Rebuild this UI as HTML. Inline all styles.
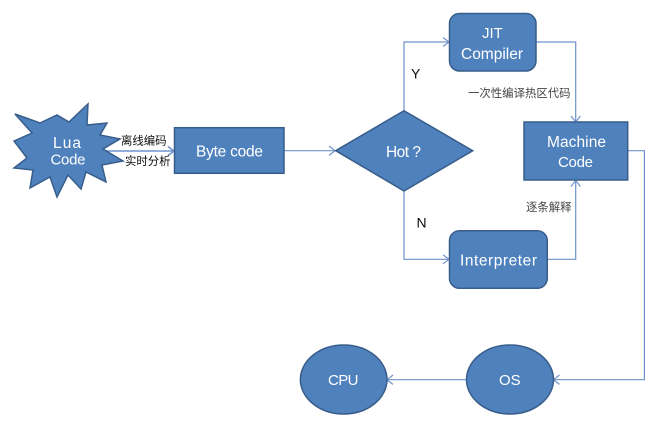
<!DOCTYPE html>
<html><head><meta charset="utf-8"><style>
html,body{margin:0;padding:0;background:#fff;width:659px;height:436px;overflow:hidden}
svg{display:block;font-family:"Liberation Sans","Noto Sans CJK SC",sans-serif}
.s{fill:#4f81bd;stroke:#385d8a;stroke-width:1.5}
.l{fill:none;stroke:#6f93cb;stroke-width:1.2}
.w{fill:#fff;font-size:15.5px}
.m{fill:#fff;font-size:15px}
.k{fill:#111;font-size:11.4px}
.g{fill:#444;font-size:11.4px}
</style></head><body>
<svg width="659" height="436" viewBox="0 0 659 436" xmlns="http://www.w3.org/2000/svg">
<defs><filter id="b" x="-2%" y="-2%" width="104%" height="104%"><feGaussianBlur stdDeviation="0.35"/></filter></defs>
<g filter="url(#b)">
<path class="l" style="stroke-width:1.6" d="M103 151H174M168 146.5L174 151L168 155.5"/>
<path class="l" d="M284 150.7H335M329 146L335 150.7L329 155.4"/>
<path class="l" d="M404 111V42H449M443 37.5L449 42L443 46.5"/>
<path class="l" d="M404 191V259.3H449M443 254.8L449 259.3L443 263.8"/>
<path class="l" d="M536 42H575.7V122M571 116L575.7 122L580.4 116"/>
<path class="l" d="M547 259.3H575.7V180.5M571 186.5L575.7 180.5L580.4 186.5"/>
<path class="l" d="M627.7 150.7H644.4V379.7H553.5M559.5 375L553.5 379.7L559.5 384.4"/>
<path class="l" d="M466.5 379.7H387M393 375L387 379.7L393 384.4"/>
<polygon class="s" points="15,114 40,123 57,115 69,122 88,104 87,125 107,123 100,135 120,139 103,149 123,161 102,165 106,182 86,172 81,189 68,175 57,197 50,177 30,188 33,170 14,168 27,158 14,141 32,133"/>
<rect class="s" x="174.5" y="127.7" width="109.5" height="45.6"/>
<polygon class="s" points="335.7,150.7 404,110.7 472.7,150.7 404,191"/>
<rect class="s" x="449.5" y="13.5" width="86.5" height="57.5" rx="10" ry="10"/>
<rect class="s" x="524" y="122" width="103.7" height="58"/>
<rect class="s" x="449.5" y="230.7" width="97.8" height="57.6" rx="10" ry="10"/>
<ellipse class="s" cx="343.7" cy="379.5" rx="43.3" ry="34.5"/>
<ellipse class="s" cx="510" cy="379.5" rx="43.5" ry="34.5"/>
<text class="w" x="53" y="148" textLength="28" lengthAdjust="spacing">Lua</text>
<text class="m" x="50.5" y="164.5" textLength="35" lengthAdjust="spacing">Code</text>
<text class="w" x="196" y="156.7" textLength="67" lengthAdjust="spacing">Byte code</text>
<text class="m" x="482" y="38">JIT</text>
<text class="w" x="461" y="59" textLength="62" lengthAdjust="spacing">Compiler</text>
<text class="w" x="547" y="147" textLength="59" lengthAdjust="spacing">Machine</text>
<text class="m" x="558" y="167" textLength="35" lengthAdjust="spacing">Code</text>
<text class="w" x="386" y="157" textLength="35" lengthAdjust="spacing">Hot ?</text>
<text class="w" x="460" y="265.7" textLength="77" lengthAdjust="spacing">Interpreter</text>
<text class="m" x="328" y="385" textLength="30.5" lengthAdjust="spacing">CPU</text>
<text class="m" x="499" y="385">OS</text>
<text x="411" y="78.7" font-size="14" fill="#111">Y</text>
<text x="416.5" y="227.7" font-size="14" fill="#111">N</text>
<text class="k" x="121" y="144.5">离线编码</text>
<text class="k" x="125" y="165">实时分析</text>
<text class="g" x="468" y="97">一次性编译热区代码</text>
<text class="g" x="526" y="211">逐条解释</text>
</g>
</svg>
</body></html>
